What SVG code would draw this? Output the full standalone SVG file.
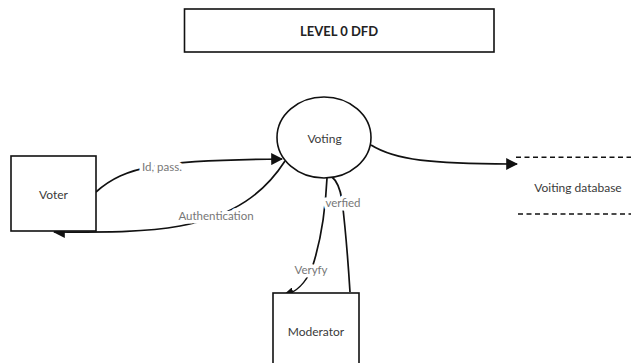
<svg xmlns="http://www.w3.org/2000/svg" width="631" height="363" viewBox="0 0 631 363">
  <style>
    .box { fill: #fff; stroke: #111; stroke-width: 1.6; }
    .node-text { font-family: Lato, "Liberation Sans", sans-serif; font-size: 12px; fill: #3a3a3a; text-anchor: middle; dominant-baseline: central; }
    .title { font-family: Lato, "Liberation Sans", sans-serif; font-size: 13px; font-weight: bold; fill: #222; text-anchor: middle; dominant-baseline: central; }
    .flow { fill: none; stroke: #111; stroke-width: 1.7; }
    .label { font-family: Lato, "Liberation Sans", sans-serif; font-size: 11.5px; fill: #777; text-anchor: middle; dominant-baseline: central; paint-order: stroke; stroke: #fff; stroke-width: 7px; stroke-linejoin: round; }
    .dash { stroke: #111; stroke-width: 1.4; stroke-dasharray: 5 3.5; fill: none; }
  </style>
  <defs>
    <marker id="arrow" viewBox="0 0 10 10" refX="9" refY="5" markerWidth="12" markerHeight="12" markerUnits="userSpaceOnUse" orient="auto">
      <path d="M0,0 L10,5 L0,10 z" fill="#111"/>
    </marker>
  </defs>
  <rect width="631" height="363" fill="#fff"/>

  <g id="title">
    <rect class="box" x="184.5" y="9" width="309.5" height="43"/>
    <text class="title" x="339" y="31">LEVEL 0 DFD</text>
  </g>

  <g id="connectors">
    <path class="flow" d="M96,192 C125,166 160,160 282,159" marker-end="url(#arrow)"/>
    <path class="flow" d="M285,161 C265,192 235,216 180,226 C140,233 100,232 54,232" marker-end="url(#arrow)"/>
    <path class="flow" d="M371,145 C395,160 430,164 517,164" marker-end="url(#arrow)"/>
    <path class="flow" d="M327,178 C325,220 318,250 312,268 C306,282 298,292 283,296" marker-end="url(#arrow)"/>
    <path class="flow" d="M350,292 C348,260 345,225 342,200 C340,188 337,181 332,177"/>
    <text class="label" x="162" y="166">Id, pass.</text>
    <text class="label" x="216" y="215">Authentication</text>
    <text class="label" x="343" y="202">verfied</text>
    <text class="label" x="311" y="269">Veryfy</text>
  </g>

  <g id="voter">
    <rect class="box" x="11" y="156" width="85" height="75"/>
    <text class="node-text" x="53.5" y="194">Voter</text>
  </g>

  <g id="voting">
    <ellipse class="box" cx="324" cy="137.5" rx="47" ry="40.5"/>
    <text class="node-text" x="324.5" y="138">Voting</text>
  </g>

  <g id="moderator">
    <rect class="box" x="273" y="293" width="86" height="85"/>
    <text class="node-text" x="316" y="331">Moderator</text>
  </g>

  <g id="voting-database">
    <line class="dash" x1="516" y1="157.3" x2="631" y2="157.3"/>
    <line class="dash" x1="518" y1="214" x2="631" y2="214"/>
    <text class="node-text" x="578" y="187">Voiting database</text>
  </g>
</svg>
